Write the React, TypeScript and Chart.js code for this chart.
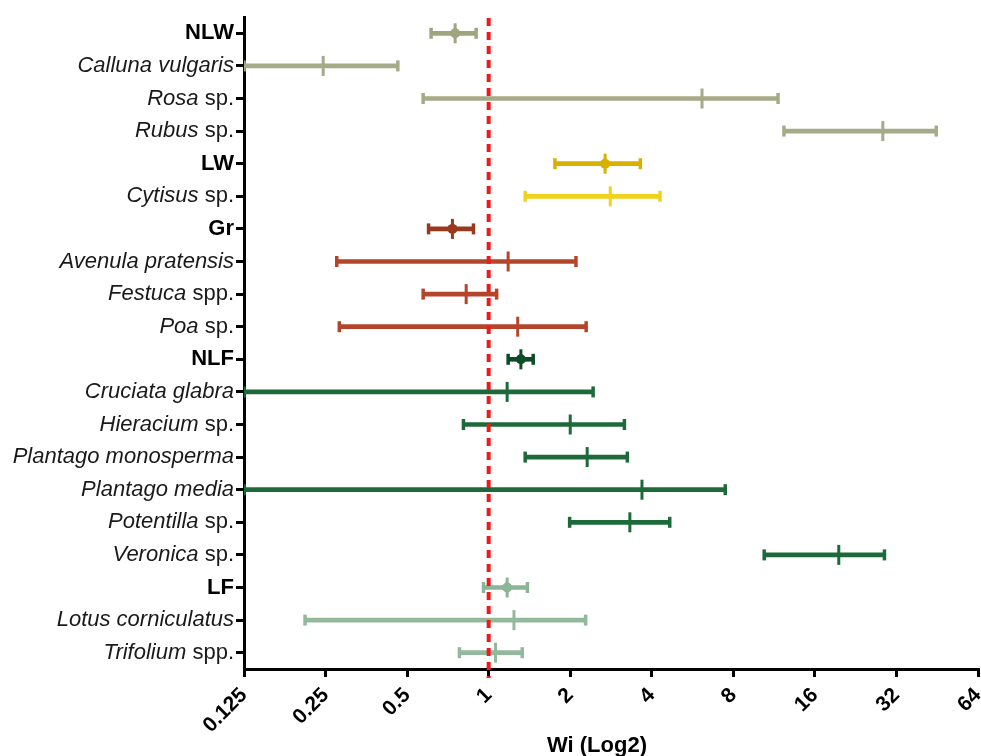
import React, { useEffect, useRef } from "react";
import { Chart, registerables } from "chart.js";

Chart.register(...registerables);

// ---- data ----
const rowNames = [
  "NLW", "Calluna vulgaris", "Rosa", "Rubus",
  "LW", "Cytisus",
  "Gr", "Avenula pratensis", "Festuca", "Poa",
  "NLF", "Cruciata glabra", "Hieracium", "Plantago monosperma", "Plantago media", "Potentilla", "Veronica",
  "LF", "Lotus corniculatus", "Trifolium",
];
const rowSuffix = [
  "", "", " sp.", " sp.",
  "", " sp.",
  "", "", " spp.", " sp.",
  "", "", " sp.", "", "", " sp.", " sp.",
  "", "", " spp.",
];
const rowIsGroup = [
  true, false, false, false,
  true, false,
  true, false, false, false,
  true, false, false, false, false, false, false,
  true, false, false,
];
const wiLow = [
  0.613, 0.125, 0.573, 12.3,
  1.756, 1.364,
  0.60, 0.275, 0.573, 0.281,
  1.18, 0.125, 0.807, 1.364, 0.125, 1.99, 10.4,
  0.957, 0.21, 0.78,
];
const wiMean = [
  0.752, 0.245, 6.13, 28.5,
  2.69, 2.81,
  0.735, 1.18, 0.826, 1.28,
  1.315, 1.17, 2.0, 2.31, 3.68, 3.32, 19.6,
  1.17, 1.24, 1.06,
];
const wiHigh = [
  0.899, 0.462, 11.7, 44.9,
  3.63, 4.29,
  0.879, 2.1, 1.07, 2.29,
  1.46, 2.43, 3.17, 3.25, 7.47, 4.66, 28.9,
  1.39, 2.28, 1.33,
];
const rowColors = [
  "#a0a47f", "#a6aa86", "#a6aa86", "#a6aa86",
  "#d7b000", "#eed21c",
  "#993a1e", "#b5452a", "#b5452a", "#b5452a",
  "#0e4b27", "#1c6a3a", "#1c6a3a", "#1c6a3a", "#1c6a3a", "#1c6a3a", "#1c6a3a",
  "#8cb496", "#93b99d", "#93b99d",
];
const xTicks = [0.125, 0.25, 0.5, 1, 2, 4, 8, 16, 32, 64];
const xTickLabels = ["0.125", "0.25", "0.5", "1", "2", "4", "8", "16", "32", "64"];
const xTitle = "Wi (Log2)";
const refValue = 1;

const FONT = "'Liberation Sans', Arial, Helvetica, sans-serif";
const rowLabels = rowNames.map((n, i) => n + rowSuffix[i]);

const labelPlugin = {
  id: "mixedLabels",
  afterDraw(chart: any) {
    const ctx = chart.ctx;
    const y = chart.scales.y;
    const xs = chart.scales.x;
    const right = chart.chartArea.left - 10;
    ctx.save();
    ctx.textBaseline = "middle";
    ctx.textAlign = "right";
    rowNames.forEach((name, i) => {
      const py = y.getPixelForValue(i);
      if (rowIsGroup[i]) {
        ctx.font = `bold 22px ${FONT}`;
        ctx.fillStyle = "#000";
        ctx.fillText(name, right, py);
      } else {
        ctx.fillStyle = "#1a1a1a";
        ctx.font = `22px ${FONT}`;
        const suf = rowSuffix[i];
        let sw = 0;
        if (suf) {
          ctx.fillText(suf, right, py);
          sw = ctx.measureText(suf).width;
        }
        ctx.font = `italic 22px ${FONT}`;
        ctx.fillText(name, right - sw, py);
      }
    });
    // x axis title
    ctx.font = `bold 22px ${FONT}`;
    ctx.fillStyle = "#000";
    ctx.textAlign = "center";
    ctx.textBaseline = "alphabetic";
    ctx.fillText(xTitle, (xs.left + xs.right) / 2 - 14, 752);
    ctx.restore();
  },
};

const refLinePlugin = {
  id: "refLine",
  afterDatasetsDraw(chart: any) {
    const ctx = chart.ctx;
    const xs = chart.scales.x;
    const px = xs.getPixelForValue(refValue);
    ctx.save();
    ctx.strokeStyle = "#f01818";
    ctx.lineWidth = 4;
    ctx.setLineDash([8, 6]);
    ctx.beginPath();
    ctx.moveTo(px, chart.chartArea.top + 1);
    ctx.lineTo(px, chart.chartArea.bottom + 9);
    ctx.stroke();
    ctx.restore();
  },
};

export default function App() {
  const ref = useRef<HTMLCanvasElement | null>(null);
  useEffect(() => {
    document.body.style.margin = "0";
    const canvas = ref.current!;
    const capPoints: any[] = [];
    const capColors: string[] = [];
    rowLabels.forEach((lab, i) => {
      capPoints.push({ x: wiLow[i], y: lab });
      capColors.push(rowColors[i]);
      capPoints.push({ x: wiHigh[i], y: lab });
      capColors.push(rowColors[i]);
    });
    const groupIdx = rowLabels.map((_, i) => i).filter((i) => rowIsGroup[i]);
    const chart = new Chart(canvas, {
      type: "bar",
      data: {
        labels: rowLabels,
        datasets: [
          {
            type: "bar",
            indexAxis: "y",
            data: rowLabels.map((_, i) => [wiLow[i], wiHigh[i]]),
            backgroundColor: rowColors,
            borderWidth: 0,
            borderSkipped: false,
            barThickness: 4,
            order: 4,
          } as any,
          {
            type: "scatter",
            data: capPoints,
            pointStyle: "line",
            pointRotation: 90,
            pointRadius: 5.5,
            pointBorderWidth: 3.5,
            pointBorderColor: capColors,
            pointBackgroundColor: capColors,
            showLine: false,
            order: 3,
          } as any,
          {
            type: "scatter",
            data: rowLabels.map((lab, i) => ({ x: wiMean[i], y: lab })),
            pointStyle: "line",
            pointRotation: 90,
            pointRadius: 10,
            pointBorderWidth: 3,
            pointBorderColor: rowColors,
            pointBackgroundColor: rowColors,
            showLine: false,
            order: 2,
          } as any,
          {
            type: "scatter",
            data: groupIdx.map((i) => ({ x: wiMean[i], y: rowLabels[i] })),
            pointStyle: "circle",
            pointRadius: 5,
            pointBorderWidth: 0,
            pointBackgroundColor: groupIdx.map((i) => rowColors[i]),
            showLine: false,
            order: 1,
          } as any,
        ],
      },
      options: {
        animation: false,
        responsive: false,
        events: [],
        layout: { autoPadding: false, padding: { top: 17, right: 3, left: 0, bottom: 0 } },
        plugins: { legend: { display: false }, tooltip: { enabled: false } },
        scales: {
          x: {
            type: "logarithmic",
            position: "bottom",
            offset: false,
            min: 0.125,
            max: 64,
            afterBuildTicks: (s: any) => {
              s.ticks = xTicks.map((v) => ({ value: v }));
            },
            afterFit: (s: any) => {
              s.height = 87;
              s.paddingLeft = 0;
              s.paddingRight = 0;
            },
            ticks: {
              autoSkip: false,
              minRotation: 45,
              maxRotation: 45,
              padding: 6,
              color: "#000",
              font: { family: FONT, size: 21, weight: "bold" },
              callback: (_v: any, i: number) => xTickLabels[i],
            },
            grid: {
              display: true,
              offset: false,
              drawOnChartArea: false,
              drawTicks: true,
              tickLength: 8,
              lineWidth: 3,
              color: "#000",
            },
            border: { display: true, color: "#000", width: 3 },
          },
          y: {
            type: "category",
            position: "left",
            offset: true,
            afterFit: (s: any) => {
              s.width = 244;
            },
            ticks: { display: false },
            grid: {
              display: true,
              drawOnChartArea: false,
              drawTicks: true,
              tickLength: 8,
              lineWidth: 3,
              color: "#000",
              offset: false,
            },
            border: { display: true, color: "#000", width: 3 },
          },
        } as any,
      },
      plugins: [labelPlugin, refLinePlugin],
    } as any);
    return () => chart.destroy();
  }, []);
  return (
    <div style={{ width: 981, height: 756, background: "#fff" }}>
      <canvas ref={ref} width={981} height={756} style={{ display: "block" }} />
    </div>
  );
}
